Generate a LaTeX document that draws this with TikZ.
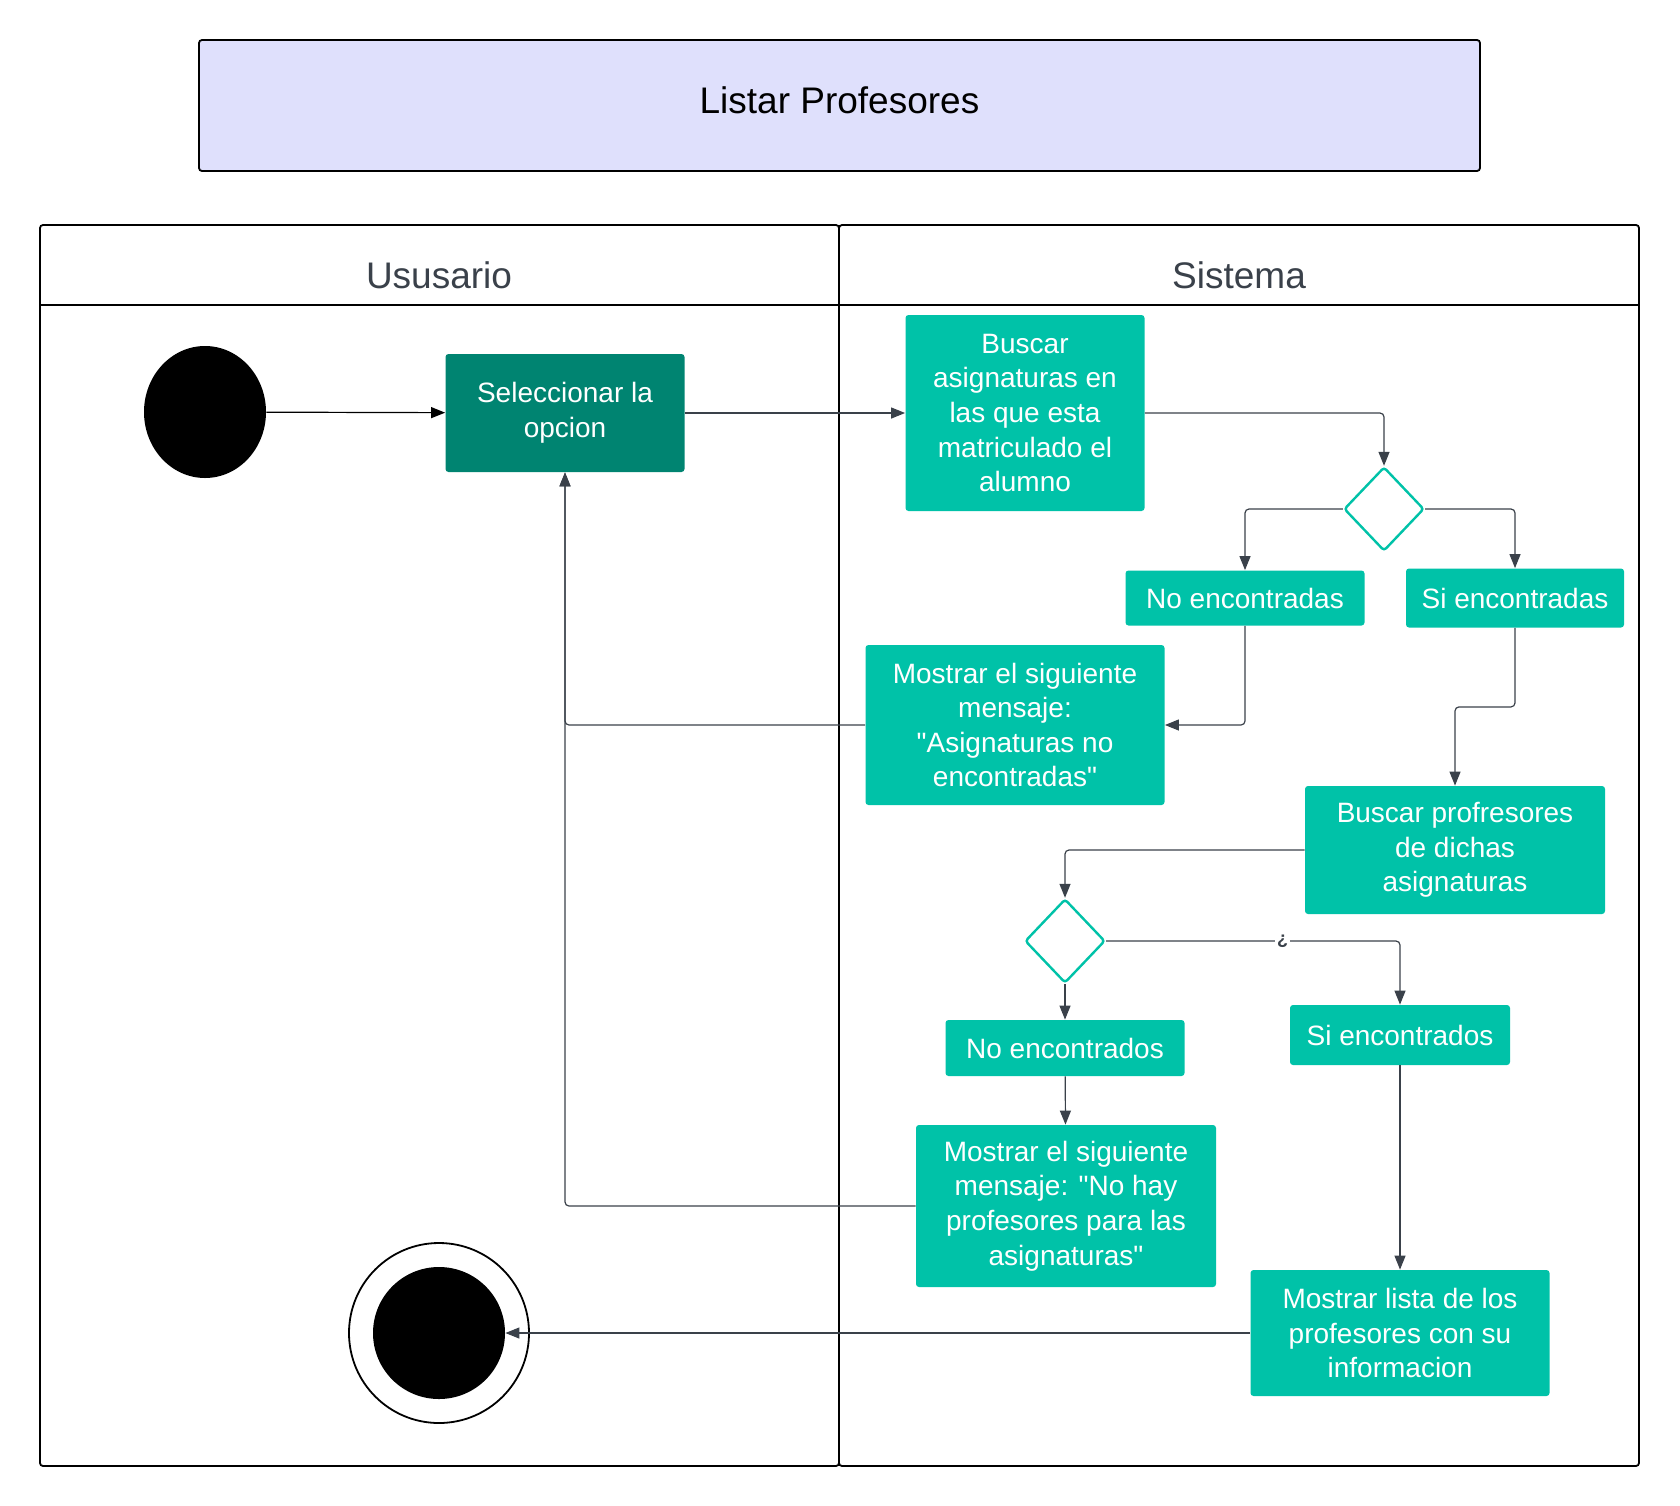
\documentclass[tikz,border=0pt]{standalone}
\usepackage{fontspec}
\setmainfont{Liberation Sans}[Ligatures=TeXOff]
\usetikzlibrary{arrows.meta,positioning,shapes.geometric}
\definecolor{tealbox}{RGB}{0,194,168}
\definecolor{darkteal}{RGB}{0,132,113}
\definecolor{titlefill}{RGB}{223,224,252}
\definecolor{linegray}{RGB}{58,65,74}

\tikzset{
  actbox/.style={rectangle, rounded corners=1.5pt, fill=tealbox, text=white, align=center, inner sep=2pt, font=\fontsize{14}{17.3}\selectfont},
  choice/.style={diamond, draw=tealbox, line width=1.2pt, rounded corners=1.5pt, minimum width=40pt, minimum height=42pt, inner sep=0pt},
  flow/.style={draw=linegray, line width=0.6pt, rounded corners=2pt, -{Triangle[length=7pt,width=5.5pt]}},
  lane/.style={draw=black, line width=0.9pt, rounded corners=1.5pt},
  header/.style={text=linegray, font=\fontsize{18.5}{22}\selectfont}
}

\begin{document}
\begin{tikzpicture}[x=0.5pt, y=-0.5pt]
  \useasboundingbox (0,0) rectangle (1680,1505);
  \draw[fill=titlefill, rounded corners=1.5pt, line width=0.9pt] (199,40) rectangle (1480,171);
  \node[font=\fontsize{18.5}{22}\selectfont] (title) at (839.5,100) {Listar Profesores};

  \draw[lane] (40,225) rectangle (839,1466);
  \draw[lane] (839,225) rectangle (1639,1466);
  \draw[lane] (40,305) -- (1639,305);
  \node[header] (usuario) at (439,275) {Ususario};
  \node[header] (sistema) at (1239,275) {Sistema};

  \node[ellipse, fill=black, minimum width=61pt, minimum height=66pt] (start) at (205,412) {};
  \node[actbox, fill=darkteal, minimum width=119.5pt, minimum height=59pt] (selec) at (565,413) {Seleccionar la\\opcion};
  \node[actbox, minimum width=119.5pt, minimum height=98pt] (buscasig) at (1025,413) {Buscar\\asignaturas en\\las que esta\\matriculado el\\alumno};
  \node[choice] (d1) at (1384,509) {};
  \node[actbox, minimum width=119.5pt, minimum height=27.5pt] (noasig) at (1245,598) {No encontradas};
  \node[actbox, minimum width=109pt, minimum height=29.5pt] (siasig) at (1515,598) {Si encontradas};
  \node[actbox, minimum width=149.5pt, minimum height=80pt] (msgasig) at (1015,725) {Mostrar el siguiente\\mensaje:\\"Asignaturas no\\encontradas"};
  \node[actbox, minimum width=150pt, minimum height=64pt] (buscprof) at (1455,850) {Buscar profresores\\de dichas\\asignaturas};
  \node[choice] (d2) at (1065,941) {};
  \node[actbox, minimum width=110pt, minimum height=30pt] (siprof) at (1400,1035) {Si encontrados};
  \node[actbox, minimum width=119.5pt, minimum height=28pt] (noprof) at (1065,1048) {No encontrados};
  \node[actbox, minimum width=150pt, minimum height=81pt] (msgprof) at (1066,1206) {Mostrar el siguiente\\mensaje: "No hay\\profesores para las\\asignaturas"};
  \node[actbox, minimum width=149.5pt, minimum height=63pt] (lista) at (1400,1333) {Mostrar lista de los\\profesores con su\\informacion};
  \node[circle, draw, line width=0.9pt, minimum size=90pt] (endout) at (439,1333) {};
  \node[circle, fill=black, minimum size=66pt] (endin) at (439,1333) {};

  \draw[flow, draw=black] (start) -- (selec);
  \draw[flow] (selec) -- (buscasig);
  \draw[flow] (buscasig.east) -| (d1.north);
  \draw[flow] (d1.west) -| (noasig.north);
  \draw[flow] (d1.east) -| (siasig.north);
  \draw[flow] (noasig.south) |- (msgasig.east);
  \draw[flow] (msgasig.west) -| (selec.south);
  \draw[flow] (siasig.south) -- ++(0,79) -| (buscprof.north);
  \draw[flow] (buscprof.west) -| (d2.north);
  \draw[flow] (d2.east) -| node[pos=0.3, fill=white, inner sep=1pt, text=linegray, font=\fontsize{9}{9}\selectfont\bfseries] {¿} (siprof.north);
  \draw[flow] (d2.south) -- (noprof.north);
  \draw[flow] (noprof) -- (msgprof);
  \draw[flow] (msgprof.west) -| (selec.south);
  \draw[flow] (siprof) -- (lista);
  \draw[flow] (lista.west) -- (endin.east);
\end{tikzpicture}
\end{document}
